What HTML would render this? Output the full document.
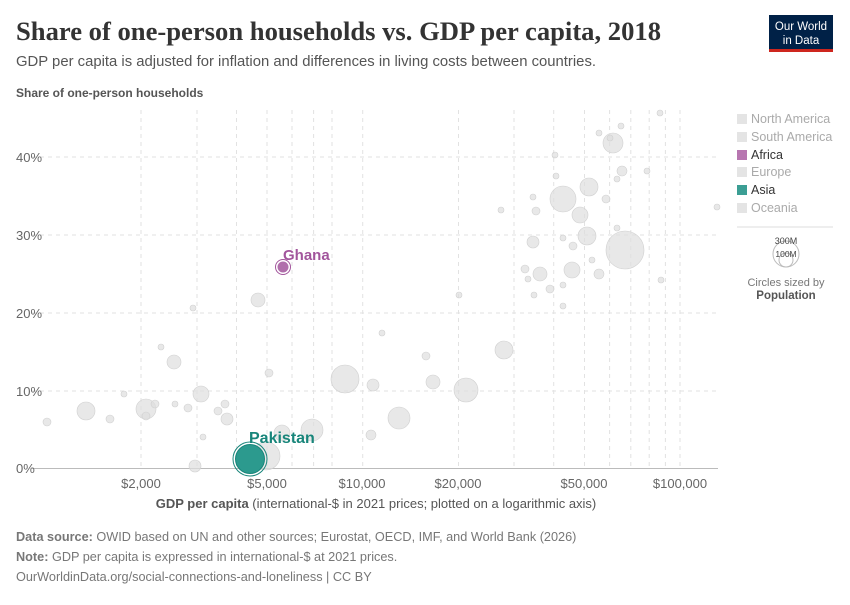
<!DOCTYPE html>
<html><head><meta charset="utf-8"><style>
body{margin:0;width:850px;height:600px;background:#fff;font-family:"Liberation Sans",sans-serif;overflow:hidden}
</style></head><body>
<svg width="850" height="600" xmlns="http://www.w3.org/2000/svg" font-family="Liberation Sans, sans-serif">
<text x="16" y="40" font-family="Liberation Serif, serif" font-size="26" font-weight="bold" fill="#333" textLength="645" lengthAdjust="spacingAndGlyphs">Share of one-person households vs. GDP per capita, 2018</text>
<text x="16" y="66" font-size="14.5" fill="#555" textLength="580" lengthAdjust="spacingAndGlyphs">GDP per capita is adjusted for inflation and differences in living costs between countries.</text>
<rect x="769" y="15" width="64" height="35" fill="#002147"/>
<rect x="769" y="49" width="64" height="3" fill="#ce261e"/>
<text x="801" y="30" font-size="11.5" fill="#fff" text-anchor="middle">Our World</text>
<text x="801" y="44" font-size="11.5" fill="#fff" text-anchor="middle">in Data</text>
<text x="16" y="97" font-size="12" font-weight="bold" fill="#555">Share of one-person households</text>
<g stroke="#e2e2e2" stroke-dasharray="4,4" stroke-width="1">
<line x1="32" x2="718" y1="391" y2="391"/><line x1="32" x2="718" y1="313" y2="313"/><line x1="32" x2="718" y1="235" y2="235"/><line x1="32" x2="718" y1="157" y2="157"/>
<line x1="141" x2="141" y1="110" y2="468"/><line x1="197" x2="197" y1="110" y2="468"/><line x1="236.5" x2="236.5" y1="110" y2="468"/><line x1="267" x2="267" y1="110" y2="468"/><line x1="292" x2="292" y1="110" y2="468"/><line x1="313.6" x2="313.6" y1="110" y2="468"/><line x1="332" x2="332" y1="110" y2="468"/><line x1="362.7" x2="362.7" y1="110" y2="468"/><line x1="458.5" x2="458.5" y1="110" y2="468"/><line x1="514" x2="514" y1="110" y2="468"/><line x1="553.7" x2="553.7" y1="110" y2="468"/><line x1="584.5" x2="584.5" y1="110" y2="468"/><line x1="609.6" x2="609.6" y1="110" y2="468"/><line x1="630.8" x2="630.8" y1="110" y2="468"/><line x1="649.2" x2="649.2" y1="110" y2="468"/><line x1="665.4" x2="665.4" y1="110" y2="468"/><line x1="680" x2="680" y1="110" y2="468"/>
</g>
<line x1="32" x2="718" y1="468.5" y2="468.5" stroke="#bbb"/>
<g font-size="13" fill="#666">
<text x="16" y="473">0%</text><text x="16" y="396">10%</text><text x="16" y="318">20%</text><text x="16" y="240">30%</text><text x="16" y="162">40%</text>
</g>
<g font-size="13" fill="#666" text-anchor="middle">
<text x="141" y="488">$2,000</text><text x="267" y="488">$5,000</text><text x="362" y="488">$10,000</text><text x="458" y="488">$20,000</text><text x="584" y="488">$50,000</text><text x="680" y="488">$100,000</text>
</g>
<text x="376" y="508" font-size="13" fill="#555" text-anchor="middle"><tspan font-weight="bold">GDP per capita</tspan> (international-$ in 2021 prices; plotted on a logarithmic axis)</text>
<g fill="#dedede" fill-opacity="0.7" stroke="#d0d0d0" stroke-width="0.6">
<circle cx="47" cy="422" r="4"/><circle cx="86" cy="411" r="9"/><circle cx="110" cy="419" r="4"/><circle cx="124" cy="394" r="3"/><circle cx="146" cy="409" r="10"/><circle cx="146" cy="416" r="4"/><circle cx="155" cy="404" r="4"/><circle cx="161" cy="347" r="3"/><circle cx="174" cy="362" r="7"/><circle cx="175" cy="404" r="3"/><circle cx="188" cy="408" r="4"/><circle cx="193" cy="308" r="3"/><circle cx="201" cy="394" r="8"/><circle cx="195" cy="466" r="6"/><circle cx="203" cy="437" r="3"/><circle cx="218" cy="411" r="4"/><circle cx="225" cy="404" r="4"/><circle cx="227" cy="419" r="6"/><circle cx="258" cy="300" r="7"/><circle cx="269" cy="373" r="4"/><circle cx="282" cy="433" r="8"/><circle cx="266" cy="456" r="14"/><circle cx="312" cy="430" r="11"/><circle cx="345" cy="379" r="14"/><circle cx="373" cy="385" r="6"/><circle cx="371" cy="435" r="5"/><circle cx="382" cy="333" r="3"/><circle cx="399" cy="418" r="11"/><circle cx="426" cy="356" r="4"/><circle cx="433" cy="382" r="7"/><circle cx="466" cy="390" r="12"/><circle cx="459" cy="295" r="3"/><circle cx="504" cy="350" r="9"/><circle cx="501" cy="210" r="3"/>
<circle cx="563" cy="199" r="13"/><circle cx="589" cy="187" r="9"/><circle cx="580" cy="215" r="8"/><circle cx="587" cy="236" r="9"/><circle cx="625" cy="250" r="19"/><circle cx="613" cy="143" r="10"/><circle cx="622" cy="171" r="5"/><circle cx="647" cy="171" r="3"/><circle cx="617" cy="179" r="3"/><circle cx="606" cy="199" r="4"/><circle cx="536" cy="211" r="4"/><circle cx="533" cy="197" r="3"/><circle cx="533" cy="242" r="6"/><circle cx="540" cy="274" r="7"/><circle cx="525" cy="269" r="4"/><circle cx="528" cy="279" r="3"/><circle cx="534" cy="295" r="3"/><circle cx="550" cy="289" r="4"/><circle cx="563" cy="285" r="3"/><circle cx="563" cy="306" r="3"/><circle cx="572" cy="270" r="8"/><circle cx="573" cy="246" r="4"/><circle cx="563" cy="238" r="3"/><circle cx="592" cy="260" r="3"/><circle cx="599" cy="274" r="5"/><circle cx="617" cy="228" r="3"/><circle cx="555" cy="155" r="3"/><circle cx="556" cy="176" r="3"/><circle cx="599" cy="133" r="3"/><circle cx="621" cy="126" r="3"/><circle cx="660" cy="113" r="3"/><circle cx="661" cy="280" r="3"/><circle cx="717" cy="207" r="3"/><circle cx="610" cy="138" r="3"/>
</g>
<circle cx="283" cy="267" r="7.5" fill="none" stroke="#a2559c" stroke-width="1"/>
<circle cx="283" cy="267" r="5.5" fill="#a2559c" fill-opacity="0.85"/>
<text x="283" y="260" font-size="15" font-weight="bold" fill="#a2559c">Ghana</text>
<circle cx="250" cy="459" r="17" fill="none" stroke="#18857a" stroke-width="1"/>
<circle cx="250" cy="459" r="14.5" fill="#2c9a8e" stroke="#18857a"/>
<text x="249" y="443" font-size="16" font-weight="bold" fill="#18857a">Pakistan</text>
<g font-size="12.5">
<rect x="737" y="114" width="10" height="10" fill="#e4e4e4"/><text x="751" y="123" fill="#aaa">North America</text>
<rect x="737" y="132" width="10" height="10" fill="#e4e4e4"/><text x="751" y="141" fill="#aaa">South America</text>
<rect x="737" y="150" width="10" height="10" fill="#b776b0"/><text x="751" y="159" fill="#333">Africa</text>
<rect x="737" y="167" width="10" height="10" fill="#e4e4e4"/><text x="751" y="176" fill="#aaa">Europe</text>
<rect x="737" y="185" width="10" height="10" fill="#3b9e94"/><text x="751" y="194" fill="#333">Asia</text>
<rect x="737" y="203" width="10" height="10" fill="#e4e4e4"/><text x="751" y="212" fill="#aaa">Oceania</text>
</g>
<line x1="737" x2="833" y1="227" y2="227" stroke="#ddd"/>
<circle cx="786" cy="254" r="13" fill="none" stroke="#bbb"/>
<circle cx="786" cy="260" r="7" fill="none" stroke="#bbb"/>
<text x="786" y="244" font-size="9" fill="#444" text-anchor="middle">300M</text>
<text x="786" y="257" font-size="8.5" fill="#444" text-anchor="middle">100M</text>
<text x="786" y="286" font-size="11" fill="#777" text-anchor="middle">Circles sized by</text>
<text x="786" y="299" font-size="11.5" font-weight="bold" fill="#555" text-anchor="middle">Population</text>
<g font-size="12.7" fill="#777">
<text x="16" y="541"><tspan font-weight="bold">Data source:</tspan> OWID based on UN and other sources; Eurostat, OECD, IMF, and World Bank (2026)</text>
<text x="16" y="561"><tspan font-weight="bold">Note:</tspan> GDP per capita is expressed in international-$ at 2021 prices.</text>
<text x="16" y="581">OurWorldinData.org/social-connections-and-loneliness | CC BY</text>
</g>
</svg>
</body></html>
